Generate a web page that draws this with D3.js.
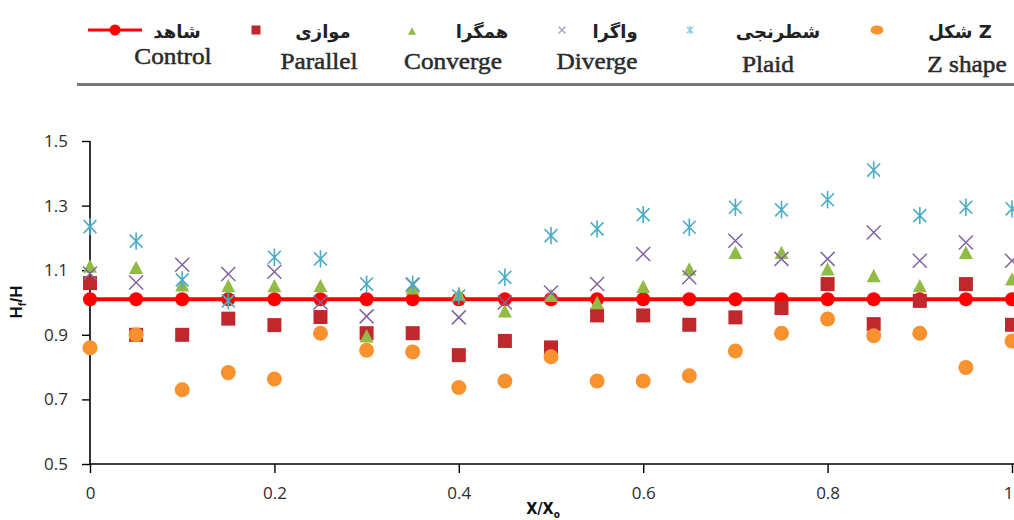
<!DOCTYPE html>
<html>
<head>
<meta charset="utf-8">
<script src="https://cdn.jsdelivr.net/npm/d3@7"></script>
<style>
html,body{margin:0;padding:0;background:#fff;}
svg{display:block;}
</style>
</head>
<body>
<svg id="chart" width="1014" height="520"></svg>
<script>
// ---------- data ----------
const xValues = [0,0.05,0.1,0.15,0.2,0.25,0.3,0.35,0.4,0.45,0.5,0.55,0.6,0.65,0.7,0.75,0.8,0.85,0.9,0.95,1];
const control  = [1.01,1.01,1.01,1.01,1.01,1.01,1.01,1.01,1.01,1.01,1.01,1.01,1.01,1.01,1.01,1.01,1.01,1.01,1.01,1.01,1.01];
const parallel = [1.06,0.90,0.90,0.95,0.93,0.955,0.905,0.905,0.837,0.881,0.861,0.96,0.96,0.931,0.954,0.983,1.057,0.933,1.005,1.057,0.931];
const converge = [1.113,1.109,1.055,1.052,1.052,1.052,0.897,1.045,1.026,0.974,1.022,1.0,1.05,1.104,1.155,1.155,1.104,1.083,1.052,1.155,1.073];
const diverge  = [1.09,1.062,1.117,1.088,1.095,1.0,0.957,1.055,0.954,1.0,1.031,1.057,1.15,1.078,1.191,1.135,1.135,1.217,1.129,1.186,1.129];
const plaid    = [1.235,1.19,1.07,1.005,1.14,1.135,1.057,1.057,1.02,1.078,1.207,1.228,1.272,1.233,1.295,1.287,1.318,1.41,1.269,1.295,1.29];
const zshape   = [0.86,0.90,0.73,0.783,0.763,0.905,0.852,0.847,0.737,0.757,0.832,0.757,0.757,0.773,0.85,0.905,0.949,0.897,0.905,0.799,0.881];

const xTicks = [0,0.2,0.4,0.6,0.8,1];
const xTickLabels = ["0","0.2","0.4","0.6","0.8","1"];
const yTicks = [0.5,0.7,0.9,1.1,1.3,1.5];
const yTickLabels = ["0.5","0.7","0.9","1.1","1.3","1.5"];

const seriesNames   = ["Control","Parallel","Converge","Diverge","Plaid","Z shape"];
const seriesPersian = ["شاهد","موازی","همگرا","واگرا","شطرنجی","شکل Z"];

// ---------- styles ----------
const COLORS = {
  Control:"#FF0000", Parallel:"#C0282D", Converge:"#92BB45",
  Diverge:"#8064A2", Plaid:"#4BACC6", "Z shape":"#F7922E"
};

const svg = d3.select("#chart");
const x = d3.scaleLinear().domain([0,1]).range([90,1012]);
const y = d3.scaleLinear().domain([0.5,1.5]).range([464,141]);

// ---------- axes ----------
const yAxis = d3.axisLeft(y).tickValues(yTicks).tickFormat((d,i)=>yTickLabels[i]).tickSize(8).tickPadding(14);
const gy = svg.append("g").attr("transform","translate(90,0)").call(yAxis);
gy.select(".domain").attr("stroke","#000").attr("stroke-width",1.6).attr("d","M0,141V464");
gy.selectAll(".tick line").attr("stroke","#000").attr("stroke-width",1.4);
gy.selectAll(".tick text").attr("font-family","'Open Sans', sans-serif").attr("font-size",17).attr("fill","#2c2c2c");

const xAxis = d3.axisBottom(x).tickValues(xTicks).tickFormat((d,i)=>xTickLabels[i]).tickSize(9).tickPadding(14);
const gx = svg.append("g").attr("transform","translate(0,464)").call(xAxis);
gx.select(".domain").attr("stroke","#000").attr("stroke-width",1.6).attr("d","M90,0H1014");
gx.selectAll(".tick line").attr("stroke","#000").attr("stroke-width",1.4);
gx.selectAll(".tick text").attr("font-family","'Open Sans', sans-serif").attr("font-size",17).attr("fill","#2c2c2c");
// keep the last label ("1") inside the picture
gx.selectAll(".tick text").filter(d=>d===1).attr("text-anchor","end").attr("dx",1);

// axis titles
const yt = svg.append("text").attr("transform","translate(22,302) rotate(-90)")
  .attr("text-anchor","middle").attr("font-family","'Liberation Sans', Arial, sans-serif")
  .attr("font-weight","bold").attr("font-size",17).attr("fill","#111");
yt.append("tspan").text("H");
yt.append("tspan").attr("font-size",11).attr("dy",4).text("f");
yt.append("tspan").attr("dy",-4).text("/H");

const xt = svg.append("text").attr("x",543).attr("y",514)
  .attr("text-anchor","middle").attr("font-family","'DejaVu Sans Condensed','Liberation Sans Narrow', sans-serif")
  .attr("font-weight","bold").attr("font-size",16).attr("fill","#111");
xt.append("tspan").text("X/X");
xt.append("tspan").attr("font-size",10).attr("dy",4).text("o");

// ---------- marker painters ----------
function drawSquare(g, cx, cy, s, color){
  g.append("rect").attr("x",cx-s/2).attr("y",cy-s/2).attr("width",s).attr("height",s).attr("fill",color);
}
function drawTriangle(g, cx, cy, s, color){
  const h = s*0.95;
  g.append("path").attr("d",`M${cx},${cy-h/2}L${cx+s/2},${cy+h/2}L${cx-s/2},${cy+h/2}Z`).attr("fill",color);
}
function drawX(g, cx, cy, s, color){
  const r=s/2;
  g.append("path").attr("d",`M${cx-r},${cy-r}L${cx+r},${cy+r}M${cx-r},${cy+r}L${cx+r},${cy-r}`)
   .attr("stroke",color).attr("stroke-width",1.5).attr("fill","none");
}
function drawStar(g, cx, cy, s, color){
  const r=s/2, h=s*0.58;
  g.append("path").attr("d",`M${cx-r*0.85},${cy-h*0.75}L${cx+r*0.85},${cy+h*0.75}M${cx-r*0.85},${cy+h*0.75}L${cx+r*0.85},${cy-h*0.75}M${cx},${cy-h}L${cx},${cy+h}`)
   .attr("stroke",color).attr("stroke-width",1.6).attr("fill","none");
}
function drawCircle(g, cx, cy, r, color){
  g.append("circle").attr("cx",cx).attr("cy",cy).attr("r",r).attr("fill",color);
}

// ---------- series ----------
const plot = svg.append("g");
plot.append("path").datum(control)
  .attr("d", d3.line().x((d,i)=>x(xValues[i])).y(d=>y(d)))
  .attr("stroke",COLORS.Control).attr("stroke-width",4).attr("fill","none");
control.forEach((v,i)=>drawCircle(plot, x(xValues[i]), y(v), 7, COLORS.Control));

parallel.forEach((v,i)=>drawSquare(plot, x(xValues[i]), y(v), 14, COLORS.Parallel));
converge.forEach((v,i)=>drawTriangle(plot, x(xValues[i]), y(v), 14, COLORS.Converge));
diverge.forEach((v,i)=>drawX(plot, x(xValues[i]), y(v), 14, COLORS.Diverge));
plaid.forEach((v,i)=>drawStar(plot, x(xValues[i]), y(v), 15, COLORS.Plaid));
zshape.forEach((v,i)=>drawCircle(plot, x(xValues[i]), y(v), 7.5, COLORS["Z shape"]));

// ---------- legend ----------
const legendLayout = [
  {sym:115, fa:177, en:173, enY:64},
  {sym:256, fa:323, en:319, enY:69},
  {sym:412, fa:482, en:453, enY:69},
  {sym:562, fa:615, en:597, enY:69},
  {sym:690, fa:778, en:768, enY:72},
  {sym:877, fa:960, en:967, enY:72}
];
const lg = svg.append("g");
const symY = 30;
seriesNames.forEach((name,i)=>{
  const L = legendLayout[i];
  const c = COLORS[name];
  if(name==="Control"){
    lg.append("line").attr("x1",88).attr("x2",142).attr("y1",symY).attr("y2",symY).attr("stroke",c).attr("stroke-width",3);
    drawCircle(lg, L.sym, symY, 5.5, c);
  } else if(name==="Parallel") drawSquare(lg, L.sym, symY, 9, c);
  else if(name==="Converge") drawTriangle(lg, L.sym, symY+1, 8, c);
  else if(name==="Diverge") drawX(lg, L.sym, symY, 7, "#b0a6c4");
  else if(name==="Plaid") drawStar(lg, L.sym, symY, 7, "#8ccfe0");
  else lg.append("ellipse").attr("cx",L.sym).attr("cy",symY).attr("rx",6.5).attr("ry",4.5).attr("fill",c);

  lg.append("text").attr("x",L.fa).attr("y",38).attr("text-anchor","middle")
    .attr("font-family","'DejaVu Sans', sans-serif").attr("font-weight","bold")
    .attr("font-size",18).attr("fill","#222").text(seriesPersian[i]);
  lg.append("text").attr("x",L.en).attr("y",L.enY).attr("text-anchor","middle")
    .attr("font-family","'Liberation Serif','Times New Roman', serif")
    .attr("font-size",23).attr("fill","#2a2a2a")
    .attr("stroke","#2a2a2a").attr("stroke-width",0.5)
    .attr("transform",`translate(${L.en},0) scale(1.1,1) translate(${-L.en},0)`)
    .text(name);
});
lg.append("line").attr("x1",77).attr("x2",1014).attr("y1",84.5).attr("y2",84.5)
  .attr("stroke","#777").attr("stroke-width",3);
</script>
</body>
</html>
